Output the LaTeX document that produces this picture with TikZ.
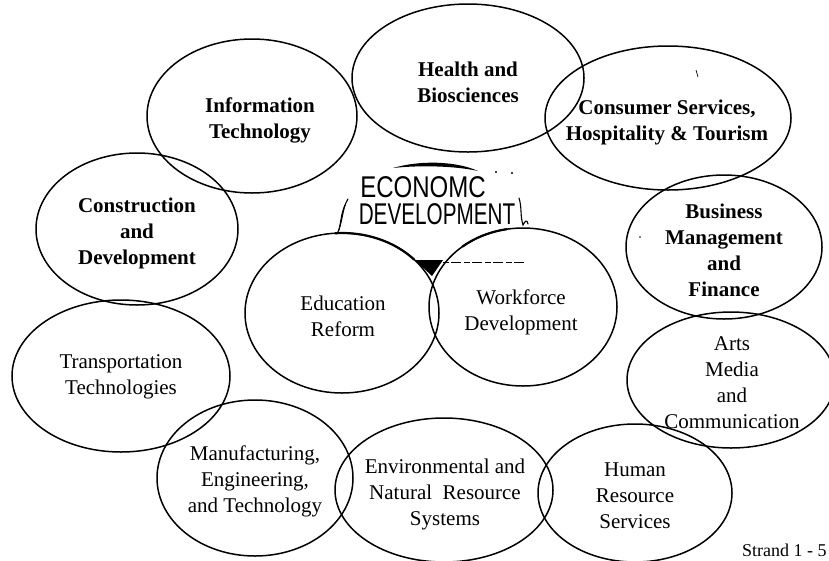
\documentclass[tikz,border=0pt]{standalone}
\usepackage{fontspec}
\setmainfont{Liberation Serif}
\newfontfamily\handfont{Liberation Sans}
\usetikzlibrary{shapes.geometric}

\tikzset{
  ring/.style={draw, ellipse, line width=1.5pt, inner sep=0pt},
  lbl/.style={align=center, inner sep=0pt, font=\fontsize{21}{26}\selectfont},
  lblb/.style={lbl, font=\fontsize{21}{26}\selectfont\bfseries},
  hand/.style={inner sep=0pt, text height=21pt, text depth=0pt, font=\fontsize{30}{30}\selectfont\handfont},
  ink/.style={line width=1.1pt, line cap=round},
  thickarc/.style={line width=2.2pt, line cap=round},
}

\begin{document}
\begin{tikzpicture}[x=1pt, y=-1pt]
  \useasboundingbox (0,0) rectangle (829,560);
  \clip (0,0) rectangle (829,560);
  \fill[white] (0,0) rectangle (829,560);

  % outer ring of career clusters
  \node[ring, minimum width=232pt, minimum height=148pt] (health)    at (468,78)  {};
  \node[ring, minimum width=210pt, minimum height=154pt] (infotech)  at (252,116) {};
  \node[ring, minimum width=246pt, minimum height=144pt] (consumer)  at (668,118) {};
  \node[ring, minimum width=196pt, minimum height=144pt] (business)  at (724,247) {};
  \node[ring, minimum width=208pt, minimum height=136pt] (arts)      at (731,380) {};
  \node[ring, minimum width=194pt, minimum height=138pt] (human)     at (635,493) {};
  \node[ring, minimum width=218pt, minimum height=144pt] (environ)   at (444,490) {};
  \node[ring, minimum width=196pt, minimum height=156pt] (manuf)     at (255,478) {};
  \node[ring, minimum width=218pt, minimum height=152pt] (transport) at (121,376) {};
  \node[ring, minimum width=202pt, minimum height=152pt] (construct) at (137,229) {};

  % inner pair
  \node[ring, minimum width=194pt, minimum height=160pt] (education) at (342,313) {};
  \node[ring, minimum width=188pt, minimum height=158pt] (workforce) at (523,307) {};

  % labels
  \node[lblb] (healthT)    at (468,82)  {Health and\\Biosciences};
  \node[lblb] (infotechT)  at (260,120) {Information\\Technology};
  \node[lblb] (consumerT)  at (667,122) {Consumer Services,\\Hospitality \& Tourism};
  \node[lblb] (businessT)  at (724,250) {Business\\Management\\and\\Finance};
  \node[lbl]  (artsT)      at (732,383) {Arts\\Media\\and\\Communication};
  \node[lbl]  (humanT)     at (635,496) {Human\\Resource\\Services};
  \node[lbl]  (environT)   at (445,494) {Environmental and\\Natural\ \ Resource\\Systems};
  \node[lbl]  (manufT)     at (255,481) {Manufacturing,\\Engineering,\\and Technology};
  \node[lbl]  (transportT) at (121,377) {Transportation\\Technologies};
  \node[lblb] (constructT) at (137,233) {Construction\\and\\Development};
  \node[lbl]  (educationT) at (343,316) {Education\\Reform};
  \node[lbl]  (workforceT) at (521,312) {Workforce\\Development};

  % hand-lettered heading
  \node[hand] (econ)  at (423,187) {\scalebox{0.8}[1]{ECONOMC}};
  \node[hand] (devel) at (437,214) {\scalebox{0.69}[1]{DEVELOPMENT}};

  % hand-drawn marks around the heading
  \fill (393,168) .. controls (420,160) and (456,161) .. (478,171)
        .. controls (456,166) and (420,165) .. cycle;
  \fill (496,172) circle (1.1pt);
  \fill (512,173) circle (1.1pt);
  \draw[ink] (348,199) .. controls (342,208) and (343,222) .. (337,234);
  \draw[ink] (345,205) .. controls (341,214) and (341,222) .. (339,230);
  \draw[ink] (519,198) .. controls (522,207) and (520,216) .. (523,225)
             .. controls (525,221) and (527,219) .. (528,224);
  % pen retraced along the tops of the inner pair
  \draw[thickarc] (education.center) ++(94:97pt and 80pt)
        arc[start angle=94, end angle=42, x radius=97pt, y radius=80pt];
  \draw[thickarc] (workforce.center) ++(130:94pt and 79pt)
        arc[start angle=130, end angle=100, x radius=94pt, y radius=79pt];

  % shaded gap between the inner pair
  \fill (415,260) -- (443,260) -- (432,276) -- cycle;
  \draw[line width=0.5pt, dash pattern=on 6pt off 2pt on 10pt off 3pt] (443,262) -- (524,262);

  % stray pen marks
  \draw[line width=0.7pt] (696,70) -- (698,77);
  \fill (640,237) circle (0.8pt);

  % page tag
  \node[anchor=base west, inner sep=0pt, font=\fontsize{18}{18}\selectfont] (tag) at (742,556) {Strand 1 - 5};
\end{tikzpicture}
\end{document}
